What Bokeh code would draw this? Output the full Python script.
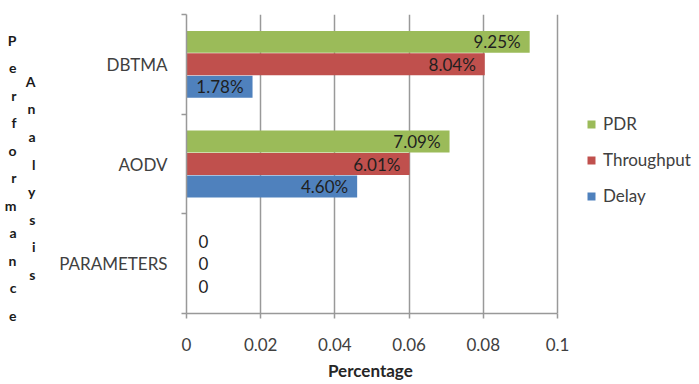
from bokeh.plotting import figure
from bokeh.models import (Range1d, FixedTicker, ColumnDataSource, LabelSet, Legend,
                          LegendItem, LinearAxis, Title)
from bokeh.core.properties import value
from bokeh.embed import file_html
from bokeh.resources import INLINE

# ---- data ----
categories = ["PARAMETERS", "AODV", "DBTMA"]
series_names = ["Delay", "Throughput", "PDR"]
delay = [0.0, 0.0460, 0.0178]
throughput = [0.0, 0.0601, 0.0804]
pdr = [0.0, 0.0709, 0.0925]
x_ticks = [0, 0.02, 0.04, 0.06, 0.08, 0.1]
x_title = "Percentage"
y_title_1 = "Performance"
y_title_2 = "Analysis"

series_values = {"Delay": delay, "Throughput": throughput, "PDR": pdr}
colors = {"PDR": "#9BBB59", "Throughput": "#C0504D", "Delay": "#4F81BD"}
offsets = {"Delay": -0.225, "Throughput": 0.0, "PDR": 0.225}

FONT = "Lato"
FS = "17px"
W, H = 699, 384
LEFT = 186          # frame left (pixel)
AXIS_END_PX = 557   # pixel where x = 0.1
x_max = x_ticks[-1]
x_end = x_max * (W - LEFT) / (AXIS_END_PX - LEFT)  # frame extends under the legend

p = figure(width=W, height=H, output_backend="svg", toolbar_location=None,
           x_range=Range1d(0, x_end), y_range=Range1d(0, len(categories)),
           min_border_left=LEFT, min_border_right=0, min_border_top=14,
           min_border_bottom=71, outline_line_color=None)
p.background_fill_color = "white"
p.border_fill_color = "white"

renderers = {}
for s in series_names:
    vals = series_values[s]
    ys = [i + 0.5 + offsets[s] for i in range(len(categories))]
    src = ColumnDataSource(dict(y=ys, right=vals))
    r = p.hbar(y="y", left=0, right="right", height=0.22, source=src,
               fill_color=colors[s], line_color=None)
    renderers[s] = r
    nz = [(y, v) for y, v in zip(ys, vals) if v > 0]
    z = [(y, v) for y, v in zip(ys, vals) if v == 0]
    if nz:
        lsrc = ColumnDataSource(dict(y=[a for a, b in nz], x=[b for a, b in nz],
                                     t=["%.2f%%" % (b * 100) for a, b in nz]))
        p.add_layout(LabelSet(x="x", y="y", text="t", source=lsrc, x_offset=-9,
                              text_align="right", text_baseline="middle",
                              text_font=value(FONT), text_font_size=FS,
                              text_color="#1f1f1f"))
    if z:
        zsrc = ColumnDataSource(dict(y=[a for a, b in z], x=[b for a, b in z],
                                     t=["0" for a, b in z]))
        p.add_layout(LabelSet(x="x", y="y", text="t", source=zsrc, x_offset=12,
                              text_align="left", text_baseline="middle",
                              text_font=value(FONT), text_font_size=FS,
                              text_color="#1f1f1f"))

# ---- axes ----
gray = "#999999"
xa = p.xaxis[0]
xa.ticker = FixedTicker(ticks=x_ticks)
xa.bounds = (0, x_max)
xa.major_label_overrides = {t: "%g" % t for t in x_ticks}
xa.axis_line_color = gray
xa.axis_line_width = 1.5
xa.major_tick_line_color = gray
xa.major_tick_line_width = 1.5
xa.major_tick_out = 5
xa.major_tick_in = 0
xa.minor_tick_line_color = None
xa.major_label_standoff = 19
xa.major_label_text_font = FONT
xa.major_label_text_font_size = FS
xa.major_label_text_color = "#404040"

# x title centred under the 0..0.1 span (frame extends to the right for the legend)
p.add_layout(Title(text=x_title, align="left", offset=(AXIS_END_PX - LEFT) / 2 - 44,
                   text_font=FONT, text_font_style="bold", text_font_size=FS,
                   text_color="#262626", standoff=8), "below")

ya = p.yaxis[0]
centers = [i + 0.5 for i in range(len(categories))]
bounds = [float(i) for i in range(len(categories) + 1)]
ya.ticker = FixedTicker(ticks=centers, minor_ticks=bounds)
ya.major_label_overrides = {c: n for c, n in zip(centers, categories)}
ya.axis_line_color = gray
ya.axis_line_width = 1.5
ya.major_tick_line_color = None
ya.minor_tick_line_color = gray
ya.minor_tick_line_width = 1.5
ya.minor_tick_out = 5
ya.minor_tick_in = 0
ya.major_label_standoff = 13
ya.major_label_text_font = FONT
ya.major_label_text_font_size = FS
ya.major_label_text_color = "#404040"

p.xgrid.grid_line_color = gray
p.xgrid.grid_line_width = 1.5
p.xgrid.ticker = FixedTicker(ticks=x_ticks)
p.ygrid.grid_line_color = None

# ---- stacked vertical titles as extra (tick-less) left axes ----
for word, standoff in [(y_title_2, 21), (y_title_1, 6)]:
    ax = LinearAxis(ticker=FixedTicker(ticks=[]), axis_line_color=None,
                    major_tick_line_color=None, minor_tick_line_color=None,
                    major_label_text_font_size="0px",
                    axis_label="\n" + "\n".join(word), axis_label_orientation="horizontal",
                    axis_label_standoff=standoff, axis_label_text_font=FONT,
                    axis_label_text_font_style="bold",
                    axis_label_text_font_size="14px",
                    axis_label_text_line_height=1.62,
                    axis_label_text_color="#1a1a1a")
    p.add_layout(ax, "left")

# ---- legend (inside the extended frame, right of the plotted area) ----
legend = Legend(items=[LegendItem(label=s, renderers=[renderers[s]])
                       for s in ["PDR", "Throughput", "Delay"]],
                location=(400, 107), orientation="vertical",
                glyph_width=10, glyph_height=10, spacing=15, margin=0, padding=0,
                label_text_font=FONT, label_text_font_size=FS,
                label_text_color="#404040", border_line_color=None,
                background_fill_alpha=0, label_standoff=7)
p.add_layout(legend, "center")

open("out.html", "w").write(file_html(p, INLINE))
